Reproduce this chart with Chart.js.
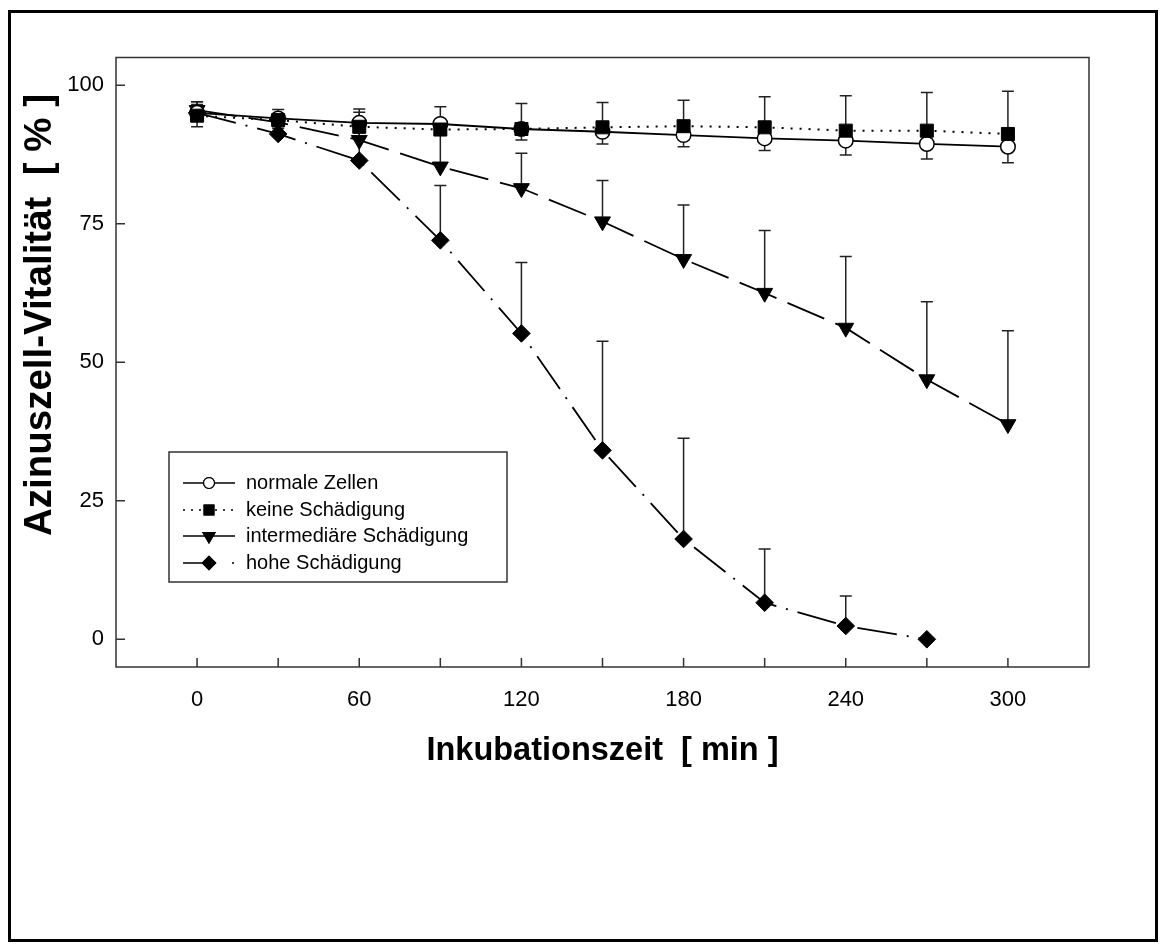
<!DOCTYPE html>
<html>
<head>
<meta charset="utf-8">
<script src="https://cdn.jsdelivr.net/npm/chart.js@4.4.1/dist/chart.umd.min.js"></script>
<style>
  html, body { margin: 0; padding: 0; background: #fff; }
  #wrap { position: relative; width: 1166px; height: 950px; }
</style>
</head>
<body>
<div id="wrap"><canvas id="chart" width="1166" height="950"></canvas></div>
<script>
// Fonts / colours
const FONT = 'Arial, "Liberation Sans", Helvetica, sans-serif';
const INK = '#000';

// Axis ticks
const TIMES = [0, 30, 60, 90, 120, 150, 180, 210, 240, 270, 300];
const X_TICKS = [0, 30, 60, 90, 120, 150, 180, 210, 240, 270, 300];
const X_LABELED = [0, 60, 120, 180, 240, 300];
const Y_TICKS = [0, 25, 50, 75, 100];

const X_TITLE = 'Inkubationszeit  [ min ]';
const Y_TITLE = 'Azinuszell-Vitalität  [ % ]';

// Series (mean values, % vitality) and one-sided error bars
const SERIES_LABELS = ['normale Zellen', 'keine Schädigung', 'intermediäre Schädigung', 'hohe Schädigung'];

const NORMAL = [95.0, 94.0, 93.2, 93.0, 92.1, 91.6, 91.0, 90.4, 90.0, 89.4, 88.9];
const NORMAL_ERR = [2.5, 1.5, 1.8, 1.6, 2.0, 2.2, 2.1, 2.2, 2.6, 2.7, 2.9];   // drawn downwards

const KEINE = [94.5, 93.7, 92.5, 92.0, 92.1, 92.4, 92.6, 92.4, 91.8, 91.8, 91.2];
const KEINE_ERR = [2.5, 1.9, 3.2, 4.1, 4.6, 4.5, 4.7, 5.5, 6.3, 6.9, 7.7];     // upwards

const INTERMED = [95.5, 93.3, 90.1, 85.3, 81.4, 75.4, 68.6, 62.5, 56.2, 46.9, 38.8];
const INTERMED_ERR = [1.5, 1.5, 5.0, 7.0, 6.3, 7.4, 9.8, 11.3, 12.9, 14.0, 16.9];

const HOHE = [95.0, 91.2, 86.4, 72.0, 55.2, 34.1, 18.1, 6.6, 2.4, 0.0];
const HOHE_ERR = [1.5, 1.0, 5.5, 9.9, 12.8, 19.7, 18.2, 9.7, 5.4, 0];

function toPoints(values) {
    return values.map((v, i) => ({ x: TIMES[i], y: v }));
}

const datasets = [
    {
        label: SERIES_LABELS[0],
        data: toPoints(NORMAL),
        errors: NORMAL_ERR, errDir: -1,
        borderColor: INK, borderWidth: 1.8, borderDash: [],
        pointStyle: 'circle', pointRadius: 7.3,
        pointBackgroundColor: '#fff', pointBorderColor: INK, pointBorderWidth: 1.5,
        order: 1
    },
    {
        label: SERIES_LABELS[1],
        data: toPoints(KEINE),
        errors: KEINE_ERR, errDir: 1,
        borderColor: INK, borderWidth: 2, borderDash: [2, 7],
        pointStyle: 'rect', pointRadius: 9.2,
        pointBackgroundColor: INK, pointBorderColor: INK, pointBorderWidth: 1,
        order: 0
    },
    {
        label: SERIES_LABELS[2],
        data: toPoints(INTERMED),
        errors: INTERMED_ERR, errDir: 1,
        borderColor: INK, borderWidth: 1.8, borderDash: [40, 12],
        pointStyle: 'triangle', pointRotation: 180, pointRadius: 9.2,
        pointBackgroundColor: INK, pointBorderColor: INK, pointBorderWidth: 1,
        order: 2
    },
    {
        label: SERIES_LABELS[3],
        data: toPoints(HOHE),
        errors: HOHE_ERR, errDir: 1,
        borderColor: INK, borderWidth: 1.8, borderDash: [40, 10, 2, 10],
        pointStyle: 'rectRot', pointRadius: 8.8,
        pointBackgroundColor: INK, pointBorderColor: INK, pointBorderWidth: 1,
        order: 3
    }
];

// Error bars, drawn under the markers
const errorBarPlugin = {
    id: 'errorBars',
    beforeDatasetsDraw(chart) {
        const ctx = chart.ctx;
        const yScale = chart.scales.y;
        ctx.save();
        ctx.strokeStyle = '#222';
        ctx.lineWidth = 1.5;
        chart.data.datasets.forEach((ds, i) => {
            const meta = chart.getDatasetMeta(i);
            meta.data.forEach((pt, j) => {
                const err = ds.errors[j];
                if (!err) return;
                const yEnd = yScale.getPixelForValue(ds.data[j].y + ds.errDir * err);
                ctx.beginPath();
                ctx.moveTo(pt.x, pt.y);
                ctx.lineTo(pt.x, yEnd);
                ctx.moveTo(pt.x - 6, yEnd);
                ctx.lineTo(pt.x + 6, yEnd);
                ctx.stroke();
            });
        });
        ctx.restore();
    }
};

// Plot box, inward tick marks, y title and outer frame
const framePlugin = {
    id: 'frame',
    afterDraw(chart) {
        const ctx = chart.ctx;
        const a = chart.chartArea;
        ctx.save();
        ctx.strokeStyle = '#333';
        ctx.lineWidth = 1.5;
        ctx.strokeRect(a.left, a.top, a.right - a.left, a.bottom - a.top);
        ctx.beginPath();
        chart.scales.y.ticks.forEach(t => {
            const y = chart.scales.y.getPixelForValue(t.value);
            ctx.moveTo(a.left, y);
            ctx.lineTo(a.left + 9, y);
        });
        chart.scales.x.ticks.forEach(t => {
            const x = chart.scales.x.getPixelForValue(t.value);
            ctx.moveTo(x, a.bottom);
            ctx.lineTo(x, a.bottom - 9);
        });
        ctx.stroke();

        // y axis title, rotated
        ctx.translate(40, 315);
        ctx.rotate(-Math.PI / 2);
        ctx.fillStyle = INK;
        ctx.font = 'bold 38.5px ' + FONT;
        ctx.textAlign = 'center';
        ctx.textBaseline = 'middle';
        ctx.fillText(Y_TITLE, 0, 0);
        ctx.setTransform(1, 0, 0, 1, 0, 0);

        ctx.strokeStyle = INK;
        ctx.lineWidth = 3;
        ctx.strokeRect(9.5, 11.5, 1147, 929);
        ctx.restore();
    }
};

function drawMarker(ctx, style, x, y, r, fill) {
    Chart.helpers.drawPoint(ctx, { pointStyle: style.pointStyle, rotation: style.pointRotation || 0, radius: r, borderWidth: 1 }, x, y);
    ctx.fillStyle = fill;
    ctx.fill();
    ctx.stroke();
}

// Boxed legend inside the plot area
const legendPlugin = {
    id: 'boxLegend',
    afterDraw(chart) {
        const ctx = chart.ctx;
        const box = { left: 169, top: 452, width: 338, height: 130 };
        const rowY = [483, 510, 536, 563];
        ctx.save();
        ctx.fillStyle = '#fff';
        ctx.fillRect(box.left, box.top, box.width, box.height);
        ctx.strokeStyle = '#333';
        ctx.lineWidth = 1.5;
        ctx.strokeRect(box.left, box.top, box.width, box.height);

        const x0 = 183, x1 = 235, xm = 209;
        chart.data.datasets.forEach((ds, i) => {
            const y = rowY[i];
            ctx.strokeStyle = INK;
            ctx.lineWidth = 1.6;
            ctx.beginPath();
            if (i === 1) {
                ctx.setLineDash([2, 6]);
                ctx.moveTo(x0, y); ctx.lineTo(x1, y);
            } else if (i === 3) {
                ctx.setLineDash([]);
                ctx.moveTo(x0, y); ctx.lineTo(xm, y);
                ctx.moveTo(x1 - 3, y); ctx.lineTo(x1 - 1, y);
            } else {
                ctx.setLineDash([]);
                ctx.moveTo(x0, y); ctx.lineTo(x1, y);
            }
            ctx.stroke();
            ctx.setLineDash([]);
            ctx.lineWidth = 1.2;
            drawMarker(ctx, ds, xm, y, ds.pointRadius * 0.75, ds.pointBackgroundColor);

            ctx.fillStyle = INK;
            ctx.font = '20px ' + FONT;
            ctx.textBaseline = 'middle';
            ctx.textAlign = 'left';
            ctx.fillText(ds.label, 246, y);
        });
        ctx.restore();
    }
};

new Chart(document.getElementById('chart'), {
    type: 'line',
    data: { datasets: datasets },
    options: {
        responsive: false,
        animation: false,
        events: [],
        layout: { padding: { left: 18, top: 57.5, right: 77, bottom: 179 } },
        plugins: { legend: { display: false }, tooltip: { enabled: false } },
        elements: { line: { tension: 0, fill: false } },
        scales: {
            x: {
                type: 'linear',
                min: -30, max: 330,
                afterBuildTicks: s => { s.ticks = X_TICKS.map(v => ({ value: v })); },
                afterFit: s => { s.height = 104; },
                grid: { display: false, drawTicks: false },
                border: { display: false },
                ticks: {
                    autoSkip: false, maxRotation: 0, padding: 20,
                    color: INK, font: { family: FONT, size: 22 },
                    callback: v => X_LABELED.includes(v) ? String(v) : ''
                },
                title: {
                    display: true, text: X_TITLE, color: INK, padding: 0,
                    font: { family: FONT, size: 32.5, weight: 'bold', lineHeight: 1.2 }
                }
            },
            y: {
                type: 'linear',
                min: -5, max: 105,
                afterBuildTicks: s => { s.ticks = Y_TICKS.map(v => ({ value: v })); },
                afterFit: s => { s.width = 98; },
                grid: { display: false, drawTicks: false },
                border: { display: false },
                ticks: {
                    padding: 12, color: INK, font: { family: FONT, size: 22 },
                    callback: v => String(v)
                },
                title: { display: false }
            }
        }
    },
    plugins: [errorBarPlugin, framePlugin, legendPlugin]
});
</script>
</body>
</html>
